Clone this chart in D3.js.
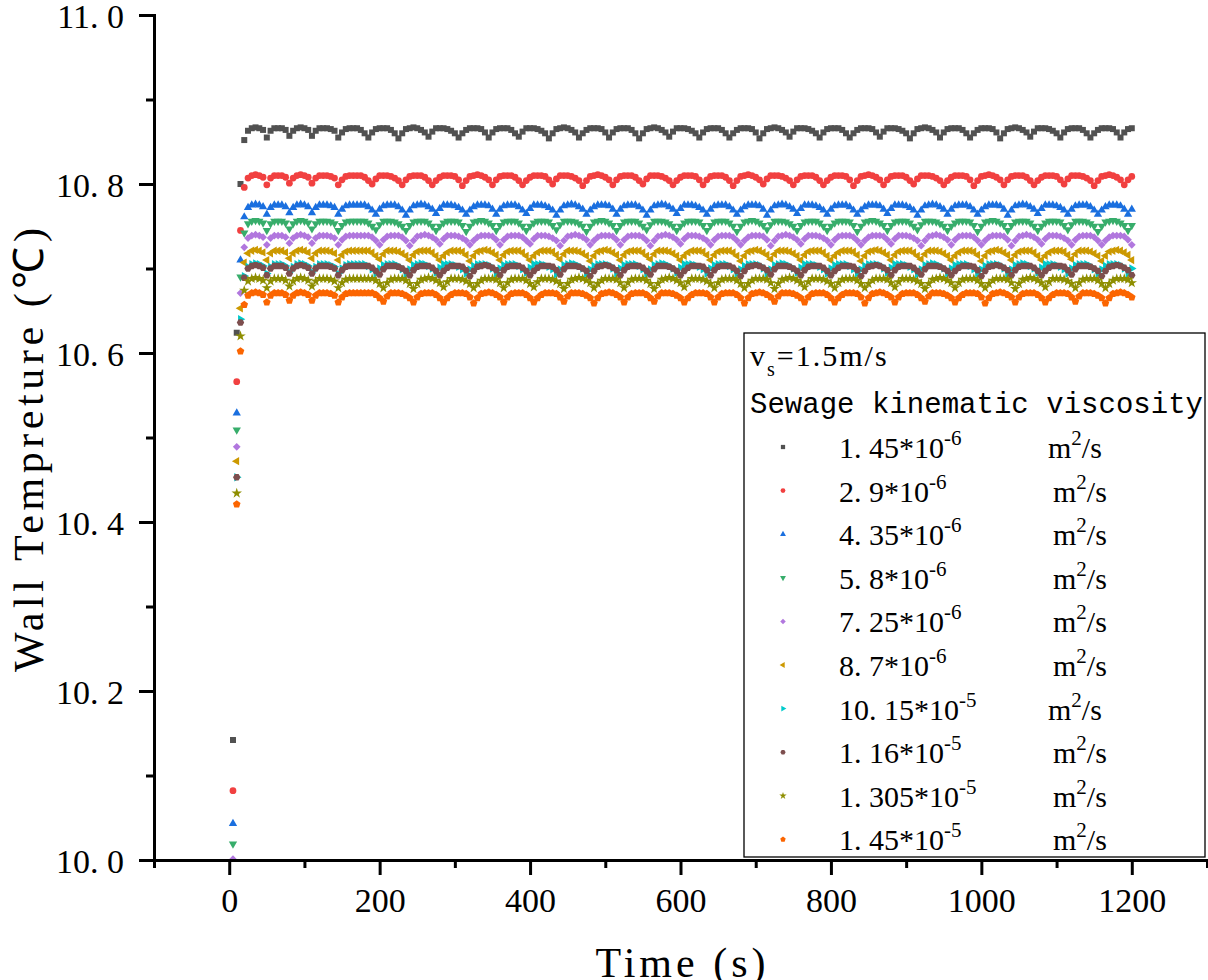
<!DOCTYPE html>
<html>
<head>
<meta charset="utf-8">
<script src="https://cdn.jsdelivr.net/npm/d3@7"></script>
<style>
  html, body { margin: 0; padding: 0; background: #fff; }
  svg { display: block; }
  text { font-family: "Liberation Serif", "Times New Roman", serif; fill: #000; }
</style>
</head>
<body>
<div id="chart"></div>
<script>
// sampling grid of the exported simulation (s)
const timeStep = 5;
const times = d3.range(timeStep, 1200 + timeStep / 2, timeStep);

// wall temperature (°C) per sewage kinematic viscosity
const wallTempA = [ // 1.45e-6
  10.142, 10.624, 10.800,
  10.852, 10.863, 10.866, 10.867, 10.866, 10.864,
  10.855, 10.863, 10.866, 10.866, 10.866, 10.864,
  10.857, 10.863, 10.866, 10.867, 10.866, 10.864,
  10.857, 10.863, 10.866, 10.866, 10.866, 10.865, 10.863,
  10.855, 10.861, 10.865, 10.866, 10.866, 10.866, 10.864, 10.860,
  10.855, 10.861, 10.865, 10.866, 10.866, 10.866, 10.864, 10.860, 10.854, 10.860, 10.865, 10.866, 10.867, 10.866, 10.864, 10.861,
  10.856, 10.862, 10.866, 10.866, 10.866, 10.865, 10.863, 10.860, 10.855, 10.860, 10.864, 10.866, 10.866, 10.866, 10.865, 10.861,
  10.855, 10.861, 10.865, 10.866, 10.866, 10.866, 10.864, 10.860, 10.856, 10.862, 10.866, 10.866, 10.866, 10.865, 10.863, 10.860,
  10.854, 10.860, 10.865, 10.866, 10.867, 10.866, 10.864, 10.861, 10.855, 10.860, 10.864, 10.866, 10.866, 10.866, 10.865, 10.861,
  10.855, 10.861, 10.865, 10.866, 10.866, 10.866, 10.864, 10.860, 10.854, 10.860, 10.865, 10.866, 10.867, 10.866, 10.864, 10.861,
  10.856, 10.862, 10.866, 10.866, 10.866, 10.865, 10.863, 10.860, 10.855, 10.861, 10.865, 10.866, 10.866, 10.866, 10.864, 10.860,
  10.855, 10.860, 10.864, 10.866, 10.866, 10.866, 10.865, 10.861, 10.854, 10.860, 10.865, 10.866, 10.867, 10.866, 10.864, 10.861,
  10.856, 10.862, 10.866, 10.866, 10.866, 10.865, 10.863, 10.860, 10.855, 10.861, 10.865, 10.866, 10.866, 10.866, 10.864, 10.860,
  10.855, 10.860, 10.864, 10.866, 10.866, 10.866, 10.865, 10.861, 10.856, 10.862, 10.866, 10.866, 10.866, 10.865, 10.863, 10.860,
  10.854, 10.860, 10.865, 10.866, 10.867, 10.866, 10.864, 10.861, 10.855, 10.861, 10.865, 10.866, 10.866, 10.866, 10.864, 10.860,
  10.855, 10.860, 10.864, 10.866, 10.866, 10.866, 10.865, 10.861, 10.854, 10.860, 10.865, 10.866, 10.867, 10.866, 10.864, 10.861,
  10.856, 10.862, 10.866, 10.866, 10.866, 10.865, 10.863, 10.860, 10.855, 10.861, 10.865, 10.866, 10.866, 10.866, 10.864, 10.860,
  10.855, 10.860, 10.864, 10.866, 10.866, 10.866, 10.865, 10.861,
  10.855, 10.861, 10.865, 10.866
];

const wallTempB = [ // 2.9e-6
  10.082, 10.566, 10.745,
  10.796, 10.807, 10.810, 10.811, 10.810, 10.808,
  10.799, 10.807, 10.810, 10.810, 10.810, 10.808,
  10.801, 10.807, 10.810, 10.811, 10.810, 10.808,
  10.801, 10.807, 10.810, 10.810, 10.810, 10.809, 10.807,
  10.799, 10.805, 10.809, 10.810, 10.810, 10.810, 10.810, 10.808, 10.804,
  10.800, 10.806, 10.810, 10.810, 10.810, 10.809, 10.807, 10.804, 10.799, 10.805, 10.809, 10.810, 10.810, 10.810, 10.808, 10.804,
  10.799, 10.804, 10.808, 10.810, 10.810, 10.810, 10.809, 10.805, 10.798, 10.804, 10.809, 10.810, 10.811, 10.810, 10.808, 10.805,
  10.799, 10.805, 10.809, 10.810, 10.810, 10.810, 10.808, 10.804, 10.799, 10.804, 10.808, 10.810, 10.810, 10.810, 10.809, 10.805,
  10.800, 10.806, 10.810, 10.810, 10.810, 10.809, 10.807, 10.804, 10.798, 10.804, 10.809, 10.810, 10.811, 10.810, 10.808, 10.805,
  10.799, 10.805, 10.809, 10.810, 10.810, 10.810, 10.808, 10.804, 10.800, 10.806, 10.810, 10.810, 10.810, 10.809, 10.807, 10.804,
  10.799, 10.804, 10.808, 10.810, 10.810, 10.810, 10.809, 10.805, 10.799, 10.805, 10.809, 10.810, 10.810, 10.810, 10.808, 10.804,
  10.798, 10.804, 10.809, 10.810, 10.811, 10.810, 10.808, 10.805, 10.800, 10.806, 10.810, 10.810, 10.810, 10.809, 10.807, 10.804,
  10.799, 10.805, 10.809, 10.810, 10.810, 10.810, 10.808, 10.804, 10.799, 10.804, 10.808, 10.810, 10.810, 10.810, 10.809, 10.805,
  10.798, 10.804, 10.809, 10.810, 10.811, 10.810, 10.808, 10.805, 10.799, 10.805, 10.809, 10.810, 10.810, 10.810, 10.808, 10.804,
  10.800, 10.806, 10.810, 10.810, 10.810, 10.809, 10.807, 10.804, 10.799, 10.804, 10.808, 10.810, 10.810, 10.810, 10.809, 10.805,
  10.798, 10.804, 10.809, 10.810, 10.811, 10.810, 10.808, 10.805, 10.799, 10.805, 10.809, 10.810, 10.810, 10.810, 10.808, 10.804,
  10.799, 10.804, 10.808, 10.810, 10.810, 10.810, 10.809, 10.805, 10.800, 10.806, 10.810, 10.810, 10.810, 10.809, 10.807, 10.804,
  10.798, 10.804, 10.809, 10.810, 10.811, 10.810, 10.808, 10.805,
  10.799, 10.805, 10.809
];

const wallTempC = [ // 4.35e-6
  10.043, 10.529, 10.710,
  10.761, 10.772, 10.775, 10.776, 10.775, 10.773,
  10.764, 10.772, 10.775, 10.775, 10.775, 10.773,
  10.766, 10.772, 10.775, 10.776, 10.775, 10.773,
  10.766, 10.772, 10.775, 10.775, 10.775, 10.774, 10.772,
  10.764, 10.770, 10.774, 10.775, 10.775, 10.775, 10.775, 10.775, 10.773, 10.769,
  10.764, 10.770, 10.774, 10.775, 10.775, 10.775, 10.773, 10.769, 10.763, 10.769, 10.774, 10.775, 10.776, 10.775, 10.773, 10.770,
  10.765, 10.771, 10.775, 10.775, 10.775, 10.774, 10.772, 10.769, 10.764, 10.769, 10.773, 10.775, 10.775, 10.775, 10.774, 10.770,
  10.764, 10.770, 10.774, 10.775, 10.775, 10.775, 10.773, 10.769, 10.765, 10.771, 10.775, 10.775, 10.775, 10.774, 10.772, 10.769,
  10.763, 10.769, 10.774, 10.775, 10.776, 10.775, 10.773, 10.770, 10.764, 10.769, 10.773, 10.775, 10.775, 10.775, 10.774, 10.770,
  10.764, 10.770, 10.774, 10.775, 10.775, 10.775, 10.773, 10.769, 10.763, 10.769, 10.774, 10.775, 10.776, 10.775, 10.773, 10.770,
  10.765, 10.771, 10.775, 10.775, 10.775, 10.774, 10.772, 10.769, 10.764, 10.770, 10.774, 10.775, 10.775, 10.775, 10.773, 10.769,
  10.764, 10.769, 10.773, 10.775, 10.775, 10.775, 10.774, 10.770, 10.763, 10.769, 10.774, 10.775, 10.776, 10.775, 10.773, 10.770,
  10.765, 10.771, 10.775, 10.775, 10.775, 10.774, 10.772, 10.769, 10.764, 10.770, 10.774, 10.775, 10.775, 10.775, 10.773, 10.769,
  10.764, 10.769, 10.773, 10.775, 10.775, 10.775, 10.774, 10.770, 10.765, 10.771, 10.775, 10.775, 10.775, 10.774, 10.772, 10.769,
  10.763, 10.769, 10.774, 10.775, 10.776, 10.775, 10.773, 10.770, 10.764, 10.770, 10.774, 10.775, 10.775, 10.775, 10.773, 10.769,
  10.764, 10.769, 10.773, 10.775, 10.775, 10.775, 10.774, 10.770, 10.763, 10.769, 10.774, 10.775, 10.776, 10.775, 10.773, 10.770,
  10.765, 10.771, 10.775, 10.775, 10.775, 10.774, 10.772, 10.769, 10.764, 10.770, 10.774, 10.775, 10.775, 10.775, 10.773, 10.769,
  10.764, 10.769, 10.773, 10.775, 10.775, 10.775, 10.774, 10.770,
  10.764, 10.770
];

const wallTempD = [ // 5.8e-6
  10.019, 10.509, 10.690,
  10.742, 10.753, 10.756, 10.757, 10.756, 10.754,
  10.745, 10.753, 10.756, 10.756, 10.756, 10.754,
  10.747, 10.753, 10.756, 10.757, 10.756, 10.754,
  10.747, 10.753, 10.756, 10.756, 10.756, 10.755, 10.753,
  10.745, 10.751, 10.755, 10.756, 10.756, 10.756, 10.756, 10.756, 10.754, 10.750,
  10.746, 10.752, 10.756, 10.756, 10.756, 10.755, 10.753, 10.750, 10.745, 10.751, 10.755, 10.756, 10.756, 10.756, 10.754, 10.750,
  10.745, 10.750, 10.754, 10.756, 10.756, 10.756, 10.755, 10.751, 10.744, 10.750, 10.755, 10.756, 10.757, 10.756, 10.754, 10.751,
  10.745, 10.751, 10.755, 10.756, 10.756, 10.756, 10.754, 10.750, 10.745, 10.750, 10.754, 10.756, 10.756, 10.756, 10.755, 10.751,
  10.746, 10.752, 10.756, 10.756, 10.756, 10.755, 10.753, 10.750, 10.744, 10.750, 10.755, 10.756, 10.757, 10.756, 10.754, 10.751,
  10.745, 10.751, 10.755, 10.756, 10.756, 10.756, 10.754, 10.750, 10.746, 10.752, 10.756, 10.756, 10.756, 10.755, 10.753, 10.750,
  10.745, 10.750, 10.754, 10.756, 10.756, 10.756, 10.755, 10.751, 10.745, 10.751, 10.755, 10.756, 10.756, 10.756, 10.754, 10.750,
  10.744, 10.750, 10.755, 10.756, 10.757, 10.756, 10.754, 10.751, 10.746, 10.752, 10.756, 10.756, 10.756, 10.755, 10.753, 10.750,
  10.745, 10.751, 10.755, 10.756, 10.756, 10.756, 10.754, 10.750, 10.745, 10.750, 10.754, 10.756, 10.756, 10.756, 10.755, 10.751,
  10.744, 10.750, 10.755, 10.756, 10.757, 10.756, 10.754, 10.751, 10.745, 10.751, 10.755, 10.756, 10.756, 10.756, 10.754, 10.750,
  10.746, 10.752, 10.756, 10.756, 10.756, 10.755, 10.753, 10.750, 10.745, 10.750, 10.754, 10.756, 10.756, 10.756, 10.755, 10.751,
  10.744, 10.750, 10.755, 10.756, 10.757, 10.756, 10.754, 10.751, 10.745, 10.751, 10.755, 10.756, 10.756, 10.756, 10.754, 10.750,
  10.745, 10.750, 10.754, 10.756, 10.756, 10.756, 10.755, 10.751, 10.746, 10.752, 10.756, 10.756, 10.756, 10.755, 10.753, 10.750,
  10.744, 10.750, 10.755, 10.756, 10.757, 10.756, 10.754, 10.751,
  10.745, 10.751
];

const wallTempE = [ // 7.25e-6
  10.001, 10.489, 10.671,
  10.725, 10.736, 10.739, 10.740, 10.739, 10.737,
  10.728, 10.736, 10.739, 10.739, 10.739, 10.737,
  10.730, 10.736, 10.739, 10.740, 10.739, 10.737,
  10.730, 10.736, 10.739, 10.739, 10.739, 10.738, 10.736,
  10.728, 10.734, 10.738, 10.739, 10.739, 10.739, 10.739, 10.739, 10.739, 10.737, 10.733,
  10.728, 10.734, 10.738, 10.739, 10.739, 10.739, 10.737, 10.733, 10.727, 10.733, 10.738, 10.739, 10.740, 10.739, 10.737, 10.734,
  10.729, 10.735, 10.739, 10.739, 10.739, 10.738, 10.736, 10.733, 10.728, 10.733, 10.737, 10.739, 10.739, 10.739, 10.738, 10.734,
  10.728, 10.734, 10.738, 10.739, 10.739, 10.739, 10.737, 10.733, 10.729, 10.735, 10.739, 10.739, 10.739, 10.738, 10.736, 10.733,
  10.727, 10.733, 10.738, 10.739, 10.740, 10.739, 10.737, 10.734, 10.728, 10.733, 10.737, 10.739, 10.739, 10.739, 10.738, 10.734,
  10.728, 10.734, 10.738, 10.739, 10.739, 10.739, 10.737, 10.733, 10.727, 10.733, 10.738, 10.739, 10.740, 10.739, 10.737, 10.734,
  10.729, 10.735, 10.739, 10.739, 10.739, 10.738, 10.736, 10.733, 10.728, 10.734, 10.738, 10.739, 10.739, 10.739, 10.737, 10.733,
  10.728, 10.733, 10.737, 10.739, 10.739, 10.739, 10.738, 10.734, 10.727, 10.733, 10.738, 10.739, 10.740, 10.739, 10.737, 10.734,
  10.729, 10.735, 10.739, 10.739, 10.739, 10.738, 10.736, 10.733, 10.728, 10.734, 10.738, 10.739, 10.739, 10.739, 10.737, 10.733,
  10.728, 10.733, 10.737, 10.739, 10.739, 10.739, 10.738, 10.734, 10.729, 10.735, 10.739, 10.739, 10.739, 10.738, 10.736, 10.733,
  10.727, 10.733, 10.738, 10.739, 10.740, 10.739, 10.737, 10.734, 10.728, 10.734, 10.738, 10.739, 10.739, 10.739, 10.737, 10.733,
  10.728, 10.733, 10.737, 10.739, 10.739, 10.739, 10.738, 10.734, 10.727, 10.733, 10.738, 10.739, 10.740, 10.739, 10.737, 10.734,
  10.729, 10.735, 10.739, 10.739, 10.739, 10.738, 10.736, 10.733, 10.728, 10.734, 10.738, 10.739, 10.739, 10.739, 10.737, 10.733,
  10.728, 10.733, 10.737, 10.739, 10.739, 10.739, 10.738, 10.734,
  10.728
];

const wallTempF = [ // 8.7e-6
  9.985, 10.472, 10.653,
  10.707, 10.718, 10.721, 10.722, 10.721, 10.719,
  10.710, 10.718, 10.721, 10.721, 10.721, 10.719,
  10.712, 10.718, 10.721, 10.722, 10.721, 10.719,
  10.712, 10.718, 10.721, 10.721, 10.721, 10.720, 10.718,
  10.710, 10.716, 10.720, 10.721, 10.721, 10.721, 10.721, 10.721, 10.721, 10.719, 10.715,
  10.711, 10.717, 10.721, 10.721, 10.721, 10.720, 10.718, 10.715, 10.710, 10.716, 10.720, 10.721, 10.721, 10.721, 10.719, 10.715,
  10.710, 10.715, 10.719, 10.721, 10.721, 10.721, 10.720, 10.716, 10.709, 10.715, 10.720, 10.721, 10.722, 10.721, 10.719, 10.716,
  10.710, 10.716, 10.720, 10.721, 10.721, 10.721, 10.719, 10.715, 10.710, 10.715, 10.719, 10.721, 10.721, 10.721, 10.720, 10.716,
  10.711, 10.717, 10.721, 10.721, 10.721, 10.720, 10.718, 10.715, 10.709, 10.715, 10.720, 10.721, 10.722, 10.721, 10.719, 10.716,
  10.710, 10.716, 10.720, 10.721, 10.721, 10.721, 10.719, 10.715, 10.711, 10.717, 10.721, 10.721, 10.721, 10.720, 10.718, 10.715,
  10.710, 10.715, 10.719, 10.721, 10.721, 10.721, 10.720, 10.716, 10.710, 10.716, 10.720, 10.721, 10.721, 10.721, 10.719, 10.715,
  10.709, 10.715, 10.720, 10.721, 10.722, 10.721, 10.719, 10.716, 10.711, 10.717, 10.721, 10.721, 10.721, 10.720, 10.718, 10.715,
  10.710, 10.716, 10.720, 10.721, 10.721, 10.721, 10.719, 10.715, 10.710, 10.715, 10.719, 10.721, 10.721, 10.721, 10.720, 10.716,
  10.709, 10.715, 10.720, 10.721, 10.722, 10.721, 10.719, 10.716, 10.710, 10.716, 10.720, 10.721, 10.721, 10.721, 10.719, 10.715,
  10.711, 10.717, 10.721, 10.721, 10.721, 10.720, 10.718, 10.715, 10.710, 10.715, 10.719, 10.721, 10.721, 10.721, 10.720, 10.716,
  10.709, 10.715, 10.720, 10.721, 10.722, 10.721, 10.719, 10.716, 10.710, 10.716, 10.720, 10.721, 10.721, 10.721, 10.719, 10.715,
  10.710, 10.715, 10.719, 10.721, 10.721, 10.721, 10.720, 10.716, 10.711, 10.717, 10.721, 10.721, 10.721, 10.720, 10.718, 10.715,
  10.709, 10.715, 10.720, 10.721, 10.722, 10.721, 10.719, 10.716,
  10.710
];

const wallTempG = [ // 10.15e-5
  9.970, 10.453, 10.640,
  10.691, 10.702, 10.705, 10.706, 10.705, 10.703,
  10.694, 10.702, 10.705, 10.705, 10.705, 10.703,
  10.696, 10.702, 10.705, 10.706, 10.705, 10.703,
  10.696, 10.702, 10.705, 10.705, 10.705, 10.704, 10.702,
  10.694, 10.700, 10.704, 10.705, 10.705, 10.705, 10.705, 10.705, 10.703, 10.699,
  10.694, 10.700, 10.704, 10.705, 10.705, 10.705, 10.703, 10.699, 10.693, 10.699, 10.704, 10.705, 10.706, 10.705, 10.703, 10.700,
  10.695, 10.701, 10.705, 10.705, 10.705, 10.704, 10.702, 10.699, 10.694, 10.699, 10.703, 10.705, 10.705, 10.705, 10.704, 10.700,
  10.694, 10.700, 10.704, 10.705, 10.705, 10.705, 10.703, 10.699, 10.695, 10.701, 10.705, 10.705, 10.705, 10.704, 10.702, 10.699,
  10.693, 10.699, 10.704, 10.705, 10.706, 10.705, 10.703, 10.700, 10.694, 10.699, 10.703, 10.705, 10.705, 10.705, 10.704, 10.700,
  10.694, 10.700, 10.704, 10.705, 10.705, 10.705, 10.703, 10.699, 10.693, 10.699, 10.704, 10.705, 10.706, 10.705, 10.703, 10.700,
  10.695, 10.701, 10.705, 10.705, 10.705, 10.704, 10.702, 10.699, 10.694, 10.700, 10.704, 10.705, 10.705, 10.705, 10.703, 10.699,
  10.694, 10.699, 10.703, 10.705, 10.705, 10.705, 10.704, 10.700, 10.693, 10.699, 10.704, 10.705, 10.706, 10.705, 10.703, 10.700,
  10.695, 10.701, 10.705, 10.705, 10.705, 10.704, 10.702, 10.699, 10.694, 10.700, 10.704, 10.705, 10.705, 10.705, 10.703, 10.699,
  10.694, 10.699, 10.703, 10.705, 10.705, 10.705, 10.704, 10.700, 10.695, 10.701, 10.705, 10.705, 10.705, 10.704, 10.702, 10.699,
  10.693, 10.699, 10.704, 10.705, 10.706, 10.705, 10.703, 10.700, 10.694, 10.700, 10.704, 10.705, 10.705, 10.705, 10.703, 10.699,
  10.694, 10.699, 10.703, 10.705, 10.705, 10.705, 10.704, 10.700, 10.693, 10.699, 10.704, 10.705, 10.706, 10.705, 10.703, 10.700,
  10.695, 10.701, 10.705, 10.705, 10.705, 10.704, 10.702, 10.699, 10.694, 10.700, 10.704, 10.705, 10.705, 10.705, 10.703, 10.699,
  10.694, 10.699, 10.703, 10.705, 10.705, 10.705, 10.704, 10.700,
  10.694, 10.700
];

const wallTempH = [ // 1.16e-5
  9.965, 10.453, 10.636,
  10.689, 10.700, 10.703, 10.704, 10.703, 10.701,
  10.692, 10.700, 10.703, 10.703, 10.703, 10.701,
  10.694, 10.700, 10.703, 10.704, 10.703, 10.701,
  10.694, 10.700, 10.703, 10.703, 10.703, 10.702, 10.700,
  10.692, 10.698, 10.702, 10.703, 10.703, 10.703, 10.703, 10.703, 10.703, 10.701, 10.697,
  10.693, 10.699, 10.703, 10.703, 10.703, 10.702, 10.700, 10.697, 10.692, 10.698, 10.702, 10.703, 10.703, 10.703, 10.701, 10.697,
  10.692, 10.697, 10.701, 10.703, 10.703, 10.703, 10.702, 10.698, 10.691, 10.697, 10.702, 10.703, 10.704, 10.703, 10.701, 10.698,
  10.692, 10.698, 10.702, 10.703, 10.703, 10.703, 10.701, 10.697, 10.692, 10.697, 10.701, 10.703, 10.703, 10.703, 10.702, 10.698,
  10.693, 10.699, 10.703, 10.703, 10.703, 10.702, 10.700, 10.697, 10.691, 10.697, 10.702, 10.703, 10.704, 10.703, 10.701, 10.698,
  10.692, 10.698, 10.702, 10.703, 10.703, 10.703, 10.701, 10.697, 10.693, 10.699, 10.703, 10.703, 10.703, 10.702, 10.700, 10.697,
  10.692, 10.697, 10.701, 10.703, 10.703, 10.703, 10.702, 10.698, 10.692, 10.698, 10.702, 10.703, 10.703, 10.703, 10.701, 10.697,
  10.691, 10.697, 10.702, 10.703, 10.704, 10.703, 10.701, 10.698, 10.693, 10.699, 10.703, 10.703, 10.703, 10.702, 10.700, 10.697,
  10.692, 10.698, 10.702, 10.703, 10.703, 10.703, 10.701, 10.697, 10.692, 10.697, 10.701, 10.703, 10.703, 10.703, 10.702, 10.698,
  10.691, 10.697, 10.702, 10.703, 10.704, 10.703, 10.701, 10.698, 10.692, 10.698, 10.702, 10.703, 10.703, 10.703, 10.701, 10.697,
  10.693, 10.699, 10.703, 10.703, 10.703, 10.702, 10.700, 10.697, 10.692, 10.697, 10.701, 10.703, 10.703, 10.703, 10.702, 10.698,
  10.691, 10.697, 10.702, 10.703, 10.704, 10.703, 10.701, 10.698, 10.692, 10.698, 10.702, 10.703, 10.703, 10.703, 10.701, 10.697,
  10.692, 10.697, 10.701, 10.703, 10.703, 10.703, 10.702, 10.698, 10.693, 10.699, 10.703, 10.703, 10.703, 10.702, 10.700, 10.697,
  10.691, 10.697, 10.702, 10.703, 10.704, 10.703, 10.701, 10.698,
  10.692
];

const wallTempI = [ // 1.305e-5
  9.950, 10.434, 10.620,
  10.674, 10.685, 10.688, 10.689, 10.688, 10.686,
  10.677, 10.685, 10.688, 10.688, 10.688, 10.686,
  10.679, 10.685, 10.688, 10.689, 10.688, 10.686,
  10.679, 10.685, 10.688, 10.688, 10.688, 10.687, 10.685,
  10.677, 10.683, 10.687, 10.688, 10.688, 10.688, 10.688, 10.688, 10.688, 10.688, 10.686, 10.682,
  10.677, 10.683, 10.687, 10.688, 10.688, 10.688, 10.686, 10.682, 10.676, 10.682, 10.687, 10.688, 10.689, 10.688, 10.686, 10.683,
  10.678, 10.684, 10.688, 10.688, 10.688, 10.687, 10.685, 10.682, 10.677, 10.682, 10.686, 10.688, 10.688, 10.688, 10.687, 10.683,
  10.677, 10.683, 10.687, 10.688, 10.688, 10.688, 10.686, 10.682, 10.678, 10.684, 10.688, 10.688, 10.688, 10.687, 10.685, 10.682,
  10.676, 10.682, 10.687, 10.688, 10.689, 10.688, 10.686, 10.683, 10.677, 10.682, 10.686, 10.688, 10.688, 10.688, 10.687, 10.683,
  10.677, 10.683, 10.687, 10.688, 10.688, 10.688, 10.686, 10.682, 10.676, 10.682, 10.687, 10.688, 10.689, 10.688, 10.686, 10.683,
  10.678, 10.684, 10.688, 10.688, 10.688, 10.687, 10.685, 10.682, 10.677, 10.683, 10.687, 10.688, 10.688, 10.688, 10.686, 10.682,
  10.677, 10.682, 10.686, 10.688, 10.688, 10.688, 10.687, 10.683, 10.676, 10.682, 10.687, 10.688, 10.689, 10.688, 10.686, 10.683,
  10.678, 10.684, 10.688, 10.688, 10.688, 10.687, 10.685, 10.682, 10.677, 10.683, 10.687, 10.688, 10.688, 10.688, 10.686, 10.682,
  10.677, 10.682, 10.686, 10.688, 10.688, 10.688, 10.687, 10.683, 10.678, 10.684, 10.688, 10.688, 10.688, 10.687, 10.685, 10.682,
  10.676, 10.682, 10.687, 10.688, 10.689, 10.688, 10.686, 10.683, 10.677, 10.683, 10.687, 10.688, 10.688, 10.688, 10.686, 10.682,
  10.677, 10.682, 10.686, 10.688, 10.688, 10.688, 10.687, 10.683, 10.676, 10.682, 10.687, 10.688, 10.689, 10.688, 10.686, 10.683,
  10.678, 10.684, 10.688, 10.688, 10.688, 10.687, 10.685, 10.682, 10.677, 10.683, 10.687, 10.688, 10.688, 10.688, 10.686, 10.682,
  10.677, 10.682, 10.686, 10.688, 10.688, 10.688, 10.687, 10.683
];

const wallTempJ = [ // 1.45e-5
  9.940, 10.421, 10.602,
  10.657, 10.668, 10.671, 10.672, 10.671, 10.669,
  10.660, 10.668, 10.671, 10.671, 10.671, 10.669,
  10.662, 10.668, 10.671, 10.672, 10.671, 10.669,
  10.662, 10.668, 10.671, 10.671, 10.671, 10.670, 10.668,
  10.660, 10.666, 10.670, 10.671, 10.671, 10.671, 10.671, 10.671, 10.671, 10.671, 10.669, 10.665,
  10.661, 10.667, 10.671, 10.671, 10.671, 10.670, 10.668, 10.665, 10.660, 10.666, 10.670, 10.671, 10.671, 10.671, 10.669, 10.665,
  10.660, 10.665, 10.669, 10.671, 10.671, 10.671, 10.670, 10.666, 10.659, 10.665, 10.670, 10.671, 10.672, 10.671, 10.669, 10.666,
  10.660, 10.666, 10.670, 10.671, 10.671, 10.671, 10.669, 10.665, 10.660, 10.665, 10.669, 10.671, 10.671, 10.671, 10.670, 10.666,
  10.661, 10.667, 10.671, 10.671, 10.671, 10.670, 10.668, 10.665, 10.659, 10.665, 10.670, 10.671, 10.672, 10.671, 10.669, 10.666,
  10.660, 10.666, 10.670, 10.671, 10.671, 10.671, 10.669, 10.665, 10.661, 10.667, 10.671, 10.671, 10.671, 10.670, 10.668, 10.665,
  10.660, 10.665, 10.669, 10.671, 10.671, 10.671, 10.670, 10.666, 10.660, 10.666, 10.670, 10.671, 10.671, 10.671, 10.669, 10.665,
  10.659, 10.665, 10.670, 10.671, 10.672, 10.671, 10.669, 10.666, 10.661, 10.667, 10.671, 10.671, 10.671, 10.670, 10.668, 10.665,
  10.660, 10.666, 10.670, 10.671, 10.671, 10.671, 10.669, 10.665, 10.660, 10.665, 10.669, 10.671, 10.671, 10.671, 10.670, 10.666,
  10.659, 10.665, 10.670, 10.671, 10.672, 10.671, 10.669, 10.666, 10.660, 10.666, 10.670, 10.671, 10.671, 10.671, 10.669, 10.665,
  10.661, 10.667, 10.671, 10.671, 10.671, 10.670, 10.668, 10.665, 10.660, 10.665, 10.669, 10.671, 10.671, 10.671, 10.670, 10.666,
  10.659, 10.665, 10.670, 10.671, 10.672, 10.671, 10.669, 10.666, 10.660, 10.666, 10.670, 10.671, 10.671, 10.671, 10.669, 10.665,
  10.660, 10.665, 10.669, 10.671, 10.671, 10.671, 10.670, 10.666, 10.661, 10.667, 10.671, 10.671, 10.671, 10.670, 10.668, 10.665,
  10.659, 10.665, 10.670, 10.671, 10.672, 10.671, 10.669, 10.666
];

const seriesValues = [wallTempA, wallTempB, wallTempC, wallTempD, wallTempE,
                      wallTempF, wallTempG, wallTempH, wallTempI, wallTempJ];
const seriesMantissa = ["1. 45*10", "2. 9*10", "4. 35*10", "5. 8*10", "7. 25*10",
                        "8. 7*10", "10. 15*10", "1. 16*10", "1. 305*10", "1. 45*10"];
const seriesExponent = ["-6", "-6", "-6", "-6", "-6", "-6", "-5", "-5", "-5", "-5"];
const seriesColors = ["#515151", "#F14040", "#1A6FDF", "#37AD6B", "#B177DE",
                      "#CC9900", "#00CBCC", "#7D4E4E", "#8E8E00", "#FB6501"];

const xTicks = [0, 200, 400, 600, 800, 1000, 1200];
const xMinorTicks = [-100, 100, 300, 500, 700, 900, 1100, 1300];
const yTicks = [10.0, 10.2, 10.4, 10.6, 10.8, 11.0];
const yMinorTicks = [10.1, 10.3, 10.5, 10.7, 10.9];


// origin-like polygon markers that d3 lacks
function polygonSymbol(n, startAngle) {
    const k = n / 2 * Math.sin(2 * Math.PI / n);
    return {
        draw(ctx, size) {
            const r = Math.sqrt(size / k);
            for (let i = 0; i < n; i++) {
                const a = startAngle + 2 * Math.PI * i / n;
                if (i === 0) ctx.moveTo(r * Math.cos(a), r * Math.sin(a));
                else ctx.lineTo(r * Math.cos(a), r * Math.sin(a));
            }
            ctx.closePath();
        }
    };
}

const markerSpecs = [
    { type: d3.symbolSquare, rot: 0, size: 36 },
    { type: d3.symbolCircle, rot: 0, size: 36 },
    { type: d3.symbolTriangle, rot: 0, size: 30 },
    { type: d3.symbolTriangle, rot: 180, size: 30 },
    { type: d3.symbolSquare, rot: 45, size: 30 },
    { type: d3.symbolTriangle, rot: -90, size: 30 },
    { type: d3.symbolTriangle, rot: 90, size: 30 },
    { type: polygonSymbol(6, 0), rot: 0, size: 36 },
    { type: d3.symbolStar, rot: 0, size: 34 },
    { type: polygonSymbol(5, -Math.PI / 2), rot: 0, size: 38 }
];

const width = 1208;
const height = 980;
const plotLeft = 154, plotRight = 1207, plotTop = 15, plotBottom = 860;

const x = d3.scaleLinear().domain([-100, 1300]).range([plotLeft, plotRight]);
const y = d3.scaleLinear().domain([10, 11]).range([plotBottom, plotTop]);

let svg;

function setupSvg() {
    svg = d3.select('#chart').append('svg')
        .attr('width', width)
        .attr('height', height)
        .attr('viewBox', `0 0 ${width} ${height}`);
    svg.append('rect').attr('width', width).attr('height', height).attr('fill', '#fff');
    svg.append('defs').append('clipPath').attr('id', 'plot-clip')
        .append('rect')
        .attr('x', plotLeft)
        .attr('y', 0)
        .attr('width', plotRight - plotLeft)
        .attr('height', plotBottom);
}

function drawSeries() {
    const plot = svg.append('g').attr('clip-path', 'url(#plot-clip)');
    seriesValues.forEach((vals, si) => {
        const spec = markerSpecs[si];
        const shape = d3.symbol().type(spec.type).size(spec.size)();
        plot.append('g')
            .attr('fill', seriesColors[si])
            .selectAll('path')
            .data(vals.map((v, i) => ({ t: times[i], v })))
            .join('path')
            .attr('d', shape)
            .attr('transform', d => `translate(${x(d.t)},${y(d.v)}) rotate(${spec.rot})`);
    });
}

function styleAxis(g, fontSize) {
    g.attr('font-size', fontSize).attr('font-family', null);
    g.selectAll('.tick line').attr('stroke', '#000').attr('stroke-width', 3);
    g.select('.domain').attr('stroke', '#000').attr('stroke-width', 3).attr('stroke-linecap', 'square');
}

function drawAxes() {
    // minor ticks first, major ticks and axis lines on top
    svg.append('g')
        .attr('transform', `translate(0,${plotBottom})`)
        .call(d3.axisBottom(x).tickValues(xMinorTicks).tickSize(8).tickFormat(''))
        .call(g => { styleAxis(g, 10); g.select('.domain').remove(); });

    svg.append('g')
        .attr('transform', `translate(${plotLeft},0)`)
        .call(d3.axisLeft(y).tickValues(yMinorTicks).tickSize(8).tickFormat(''))
        .call(g => { styleAxis(g, 10); g.select('.domain').remove(); });

    svg.append('g')
        .attr('transform', `translate(0,${plotBottom})`)
        .call(d3.axisBottom(x).tickValues(xTicks).tickSize(15).tickSizeOuter(0).tickPadding(13).tickFormat(d3.format('d')))
        .call(g => styleAxis(g, 34));

    svg.append('g')
        .attr('transform', `translate(${plotLeft},0)`)
        .call(d3.axisLeft(y).tickValues(yTicks).tickSize(15).tickSizeOuter(0).tickPadding(15)
            .tickFormat(d => d.toFixed(1).replace('.', '. ')))
        .call(g => {
            styleAxis(g, 34);
            g.selectAll('.tick text').attr('dy', '0.36em');
        });

    svg.append('text')
        .attr('x', (plotLeft + plotRight) / 2)
        .attr('y', 977)
        .attr('text-anchor', 'middle')
        .attr('font-size', 42)
        .attr('textLength', 170)
        .attr('lengthAdjust', 'spacing')
        .text('Time (s)');

    svg.append('text')
        .attr('transform', 'translate(43,450) rotate(-90)')
        .attr('text-anchor', 'middle')
        .attr('font-size', 42)
        .attr('textLength', 444)
        .attr('lengthAdjust', 'spacing')
        .text('Wall Tempreture (\u2103)');
}

function drawLegend() {
    const lg = svg.append('g');
    lg.append('rect')
        .attr('x', 744).attr('y', 333)
        .attr('width', 461).attr('height', 524)
        .attr('fill', '#fff')
        .attr('stroke', '#000')
        .attr('stroke-width', 1.3);

    const vs = lg.append('text')
        .attr('x', 750).attr('y', 366)
        .attr('font-size', 30)
        .attr('letter-spacing', 2);
    vs.append('tspan').text('v');
    vs.append('tspan').attr('dy', 10).attr('font-size', 20).text('s');
    vs.append('tspan').attr('dy', -10).text('=1.5m/s');

    lg.append('text')
        .attr('x', 750).attr('y', 413)
        .attr('font-size', 29)
        .style('font-family', '"Liberation Mono", monospace')
        .attr('textLength', 453)
        .attr('lengthAdjust', 'spacing')
        .text('Sewage kinematic viscosity');

    const rowStep = 43.6;
    const unitX = [1048, 1053, 1053, 1053, 1053, 1053, 1048, 1053, 1053, 1053];
    seriesMantissa.forEach((label, i) => {
        const base = 458 + rowStep * i;
        const spec = markerSpecs[i];
        lg.append('path')
            .attr('d', d3.symbol().type(spec.type).size(spec.size * 0.5)())
            .attr('fill', seriesColors[i])
            .attr('transform', `translate(783,${base - 11}) rotate(${spec.rot})`);

        const t = lg.append('text').attr('x', 839).attr('y', base).attr('font-size', 30);
        t.append('tspan').text(label);
        t.append('tspan').attr('dy', -13).attr('font-size', 21).text(seriesExponent[i]);

        const u = lg.append('text').attr('x', unitX[i]).attr('y', base).attr('font-size', 30);
        u.append('tspan').text('m');
        u.append('tspan').attr('dy', -13).attr('font-size', 21).text('2');
        u.append('tspan').attr('dy', 13).text('/s');
    });
}

setupSvg();
drawSeries();
drawAxes();
drawLegend();
</script>
</body>
</html>
